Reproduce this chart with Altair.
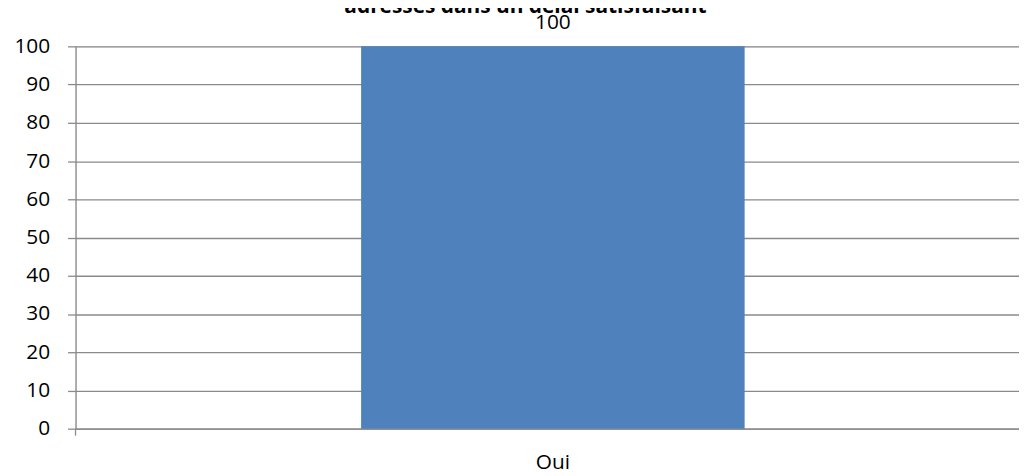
import altair as alt
import pandas as pd

categories = ["Oui"]
values = [100]
title_line = ["adressés dans un délai satisfaisant"]
y_ticks = [0, 10, 20, 30, 40, 50, 60, 70, 80, 90, 100]

df = pd.DataFrame({"cat": categories, "val": values})
tdf = pd.DataFrame({"t": title_line})

W = 950
H = 385
GRID = "#8a8a8a"
FONT = "Open Sans"

x_scale = alt.Scale(domain=categories, paddingInner=0, paddingOuter=0.73, align=0.51)
y_scale = alt.Scale(domain=[0, 100], nice=False)

x_axis = alt.Axis(title=None, ticks=False, labelAngle=0, labelPadding=23,
                  labelFontSize=21, labelFont=FONT, labelColor="#000",
                  domainColor=GRID, domainWidth=1.3)
y_axis = alt.Axis(title=None, values=y_ticks, labelOverlap=False,
                  tickSize=8, tickColor=GRID, tickWidth=1.3,
                  labelPadding=18, labelFontSize=21, labelFont=FONT, labelColor="#000",
                  gridColor=GRID, gridWidth=1.3, domainColor=GRID, domainWidth=1.3)

bars = alt.Chart(df).mark_bar(color="#4f81bd").encode(
    x=alt.X("cat:N", scale=x_scale, sort=categories, axis=x_axis),
    y=alt.Y("val:Q", scale=y_scale, axis=y_axis),
)

labels = alt.Chart(df).mark_text(font=FONT, fontSize=21, baseline="alphabetic", dy=-17, color="#000").encode(
    x=alt.X("cat:N", scale=x_scale, sort=categories, axis=x_axis),
    y=alt.Y("val:Q", scale=y_scale, axis=y_axis),
    text=alt.Text("val:Q"),
)

left_tick = alt.Chart(df).mark_rule(color=GRID, strokeWidth=1.3).encode(
    x=alt.value(0), y=alt.value(H), y2=alt.value(H + 7)
)

title = alt.Chart(tdf).mark_text(font=FONT, fontSize=21, fontWeight="bold", baseline="alphabetic",
                                 align="center", color="#000").encode(
    x=alt.value(453), y=alt.value(-34), text="t:N"
)

chart = alt.layer(bars, labels, left_tick, title).properties(
    width=W, height=H,
    autosize=alt.AutoSizeParams(type="none"),
    padding={"left": 68, "top": 37, "right": 0, "bottom": 42},
).configure_view(stroke=None).configure(background="white")

chart.save("out.html", embed_options={"renderer": "svg", "actions": False})
